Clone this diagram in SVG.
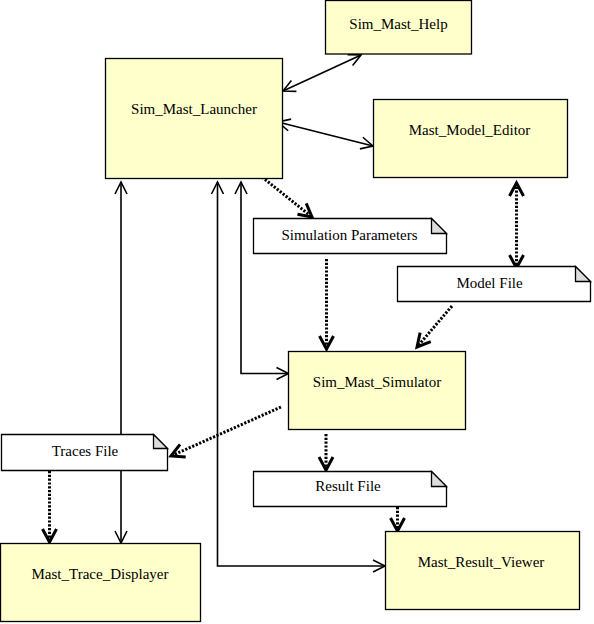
<svg xmlns="http://www.w3.org/2000/svg" width="594" height="624" viewBox="0 0 594 624">
<style>
.box{fill:#FFFFCC;stroke:#000;stroke-width:1.3}
.note{fill:#fff;stroke:#000;stroke-width:1.3}
.fold{fill:#DDDDDD;stroke:#000;stroke-width:1.3}
.t{font-family:"Liberation Serif","Times New Roman","DejaVu Serif",serif;font-size:15px;fill:#000;text-anchor:middle}
.s{fill:none;stroke:#000;stroke-width:1.6}
.d{fill:none;stroke:#000;stroke-width:3;stroke-dasharray:2.2 1.6}
</style>
<defs>
<marker id="as" markerUnits="userSpaceOnUse" markerWidth="20" markerHeight="20" viewBox="-16 -10 20 20" refX="0" refY="0" orient="auto-start-reverse">
<path d="M-12,-6 L0,0 L-12,6" fill="none" stroke="#000" stroke-width="1.6"/>
</marker>
<marker id="ad" markerUnits="userSpaceOnUse" markerWidth="22" markerHeight="22" viewBox="-17 -11 22 22" refX="0" refY="0" orient="auto-start-reverse">
<path d="M-13,-7 L0,0 L-13,7" fill="none" stroke="#000" stroke-width="3"/>
</marker>
</defs>
<g id="connectors">
<line class="s" x1="283" y1="91" x2="361" y2="55" marker-start="url(#as)" marker-end="url(#as)"/>
<line class="s" x1="278" y1="122" x2="373" y2="146" marker-start="url(#as)" marker-end="url(#as)"/>
<line class="d" x1="262" y1="177" x2="312" y2="217" marker-end="url(#ad)"/>
<line class="d" x1="326.5" y1="259" x2="326.5" y2="349" marker-end="url(#ad)"/>
<line class="d" x1="516.5" y1="183" x2="516.5" y2="268" marker-start="url(#ad)" marker-end="url(#ad)"/>
<line class="d" x1="452" y1="306" x2="417" y2="347" marker-end="url(#ad)"/>
<line class="s" x1="121" y1="182" x2="121" y2="543" marker-start="url(#as)" marker-end="url(#as)"/>
<polyline class="s" points="241,182 241,373.5 288.5,373.5" marker-start="url(#as)" marker-end="url(#as)"/>
<polyline class="s" points="217.5,182 217.5,566 385,566" marker-start="url(#as)" marker-end="url(#as)"/>
<line class="d" x1="281" y1="407" x2="171" y2="456" marker-end="url(#ad)"/>
<line class="d" x1="49.5" y1="471" x2="49.5" y2="542" marker-end="url(#ad)"/>
<line class="d" x1="326" y1="434" x2="326" y2="470" marker-end="url(#ad)"/>
<line class="d" x1="397.5" y1="507" x2="397.5" y2="531" marker-end="url(#ad)"/>
</g>
<g id="Sim_Mast_Launcher">
<rect class="box" x="105.5" y="58.5" width="177" height="120"/>
<text class="t" x="194" y="114">Sim_Mast_Launcher</text>
</g>
<g id="Sim_Mast_Help">
<rect class="box" x="325.5" y="0.5" width="146" height="53.5"/>
<text class="t" x="398.5" y="29">Sim_Mast_Help</text>
</g>
<g id="Mast_Model_Editor">
<rect class="box" x="373.5" y="99.5" width="194" height="78"/>
<text class="t" x="469.5" y="135">Mast_Model_Editor</text>
</g>
<g id="Simulation_Parameters">
<path class="note" d="M253.5,218.5 H431.5 L446.5,233.5 V253.5 H253.5 Z"/>
<path class="fold" d="M431.5,218.5 V233.5 H446.5 Z"/>
<text class="t" x="349.5" y="240">Simulation Parameters</text>
</g>
<g id="Model_File">
<path class="note" d="M397.5,266.5 H575.5 L590.5,281.5 V301.5 H397.5 Z"/>
<path class="fold" d="M575.5,266.5 V281.5 H590.5 Z"/>
<text class="t" x="489.5" y="288">Model File</text>
</g>
<g id="Sim_Mast_Simulator">
<rect class="box" x="288.5" y="351.5" width="177" height="78"/>
<text class="t" x="377" y="387">Sim_Mast_Simulator</text>
</g>
<g id="Traces_File">
<path class="note" d="M1.5,434.5 H153.5 L167.5,448.5 V470.5 H1.5 Z"/>
<path class="fold" d="M153.5,434.5 V448.5 H167.5 Z"/>
<text class="t" x="85" y="456">Traces File</text>
</g>
<g id="Mast_Trace_Displayer">
<rect class="box" x="0.5" y="543.5" width="200" height="78"/>
<text class="t" x="100" y="579">Mast_Trace_Displayer</text>
</g>
<g id="Result_File">
<path class="note" d="M253.5,471.5 H431.5 L446.5,486.5 V506.5 H253.5 Z"/>
<path class="fold" d="M431.5,471.5 V486.5 H446.5 Z"/>
<text class="t" x="348" y="491">Result File</text>
</g>
<g id="Mast_Result_Viewer">
<rect class="box" x="385.5" y="531.5" width="194" height="78"/>
<text class="t" x="481" y="567">Mast_Result_Viewer</text>
</g>
</svg>
